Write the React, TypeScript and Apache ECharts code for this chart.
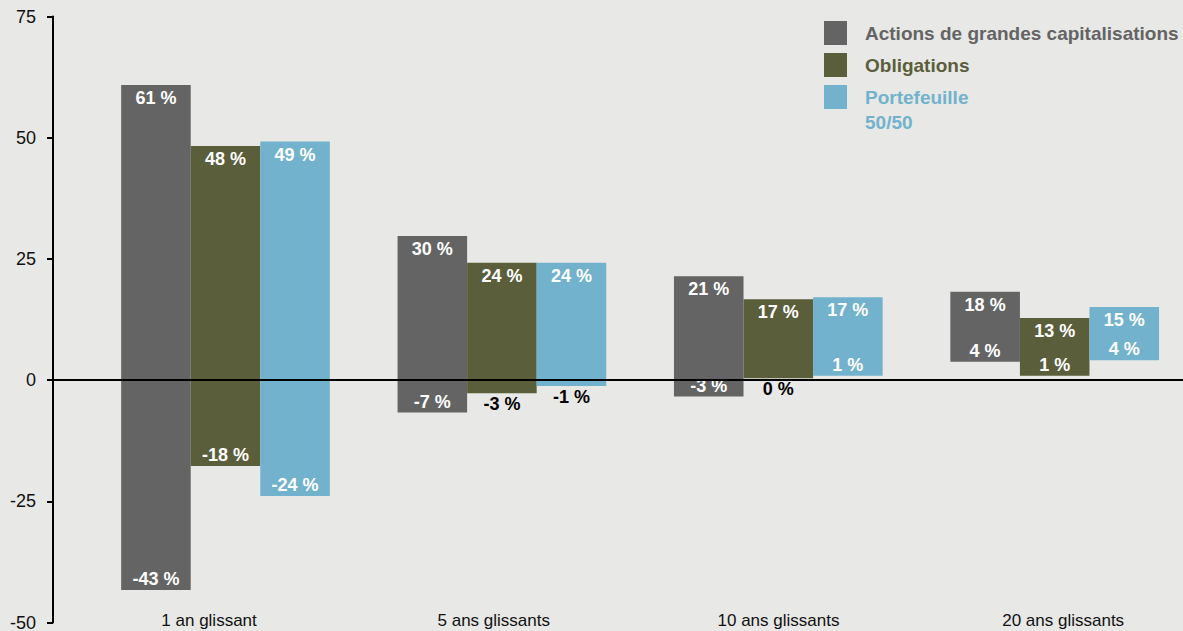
import React, { useEffect, useRef } from "react";
import * as echarts from "echarts";

const CATEGORIES = ["1 an glissant", "5 ans glissants", "10 ans glissants", "20 ans glissants"];
const SERIES_NAMES = ["Actions de grandes capitalisations", "Obligations", "Portefeuille"];
const SERIES_NAME_SUFFIX = "50/50";

const EQUITY_LOW = [-43.3, -6.7, -3.4, 3.8];
const EQUITY_HIGH = [60.85, 29.7, 21.4, 18.2];
const BOND_LOW = [-17.7, -2.7, 0.4, 0.9];
const BOND_HIGH = [48.3, 24.2, 16.7, 12.8];
const MIX_LOW = [-23.9, -1.2, 0.9, 4.1];
const MIX_HIGH = [49.2, 24.2, 17.1, 15.1];

// whether the low-value label sits below the bar (black) instead of inside it
const EQUITY_LOW_BELOW = [false, false, false, false];
const BOND_LOW_BELOW = [false, true, true, false];
const MIX_LOW_BELOW = [false, true, false, false];

const Y_MIN = -50;
const Y_MAX = 75;
const Y_STEP = 25;

const COLORS = ["#646464", "#5b5e3b", "#72b2cc"];
const BG = "#e8e8e6";
const FONT = "'Liberation Sans', Arial, Helvetica, sans-serif";

const GRID_LEFT = 87.3;
const GRID_WIDTH = 1105.6;
const LABEL_GRID_LEFT = 66.7;
const LABEL_GRID_WIDTH = 1138.8;
const AXIS_OFFSET = 34.3;
const BAR_FRACTION = 0.755;

const LOWS = [EQUITY_LOW, BOND_LOW, MIX_LOW];
const HIGHS = [EQUITY_HIGH, BOND_HIGH, MIX_HIGH];
const BELOWS = [EQUITY_LOW_BELOW, BOND_LOW_BELOW, MIX_LOW_BELOW];

const fmt = (v: number) => `${Math.round(v)} %`;

export default function App() {
  const ref = useRef<HTMLDivElement>(null);

  useEffect(() => {
    if (!ref.current) return;
    const chart = echarts.init(ref.current, undefined, { renderer: "svg" });

    const series = SERIES_NAMES.map((name, s) => ({
      name,
      type: "custom",
      xAxisIndex: 0,
      yAxisIndex: 0,
      itemStyle: { color: COLORS[s] },
      data: CATEGORIES.map((_, i) => [i, LOWS[s][i], HIGHS[s][i], BELOWS[s][i] ? 1 : 0]),
      renderItem: (params: any, api: any) => {
        const idx = api.value(0);
        const low = api.value(1);
        const high = api.value(2);
        const below = api.value(3) === 1;
        const center = api.coord([idx, 0]);
        const band = api.size([1, 0])[0];
        const w = (band * BAR_FRACTION) / 3;
        const x = center[0] - 1.5 * w + s * w;
        const yTop = api.coord([idx, high])[1];
        const yBot = api.coord([idx, low])[1];
        const textBase = {
          fontSize: 18,
          fontWeight: "bold",
          fontFamily: FONT,
          align: "center",
          verticalAlign: "middle",
        };
        return {
          type: "group",
          children: [
            {
              type: "rect",
              shape: { x, y: yTop, width: w, height: yBot - yTop },
              style: { fill: COLORS[s] },
            },
            {
              type: "text",
              style: { ...textBase, text: fmt(high), x: x + w / 2, y: yTop + 13, fill: "#ffffff" },
            },
            {
              type: "text",
              style: {
                ...textBase,
                text: fmt(low),
                x: x + w / 2,
                y: below ? yBot + 11 : yBot - 11,
                fill: below ? "#000000" : "#ffffff",
              },
            },
          ],
        };
      },
    }));

    chart.setOption({
      animation: false,
      backgroundColor: BG,
      textStyle: { fontFamily: FONT },
      grid: [
        { left: GRID_LEFT, width: GRID_WIDTH, top: 16.5, bottom: 8.5, outerBoundsMode: "none", containLabel: false },
        { left: LABEL_GRID_LEFT, width: LABEL_GRID_WIDTH, top: 16.5, bottom: 21, outerBoundsMode: "none", containLabel: false },
      ],
      legend: {
        orient: "vertical",
        left: 824,
        top: 21,
        padding: 0,
        itemWidth: 23,
        itemHeight: 24,
        itemGap: 8,
        icon: "rect",
        selectedMode: false,
        textStyle: { fontSize: 19, fontWeight: "bold", fontFamily: FONT, padding: [0, 0, 0, 13] },
        data: SERIES_NAMES.map((n, s) => ({ name: n, textStyle: { color: COLORS[s] } })),
      },
      xAxis: [
        {
          type: "category",
          gridIndex: 0,
          data: CATEGORIES,
          axisLine: { show: false },
          axisTick: { show: false },
          axisLabel: { show: false },
          splitLine: { show: false },
        },
        {
          type: "category",
          gridIndex: 1,
          data: CATEGORIES,
          position: "bottom",
          axisLine: { show: false },
          axisTick: { show: false },
          axisLabel: { show: true, fontSize: 17, color: "#111111", fontFamily: FONT, margin: 2 },
          splitLine: { show: false },
        },
      ],
      yAxis: [
        {
          type: "value",
          gridIndex: 0,
          min: Y_MIN,
          max: Y_MAX,
          interval: Y_STEP,
          offset: AXIS_OFFSET,
          axisLine: { show: true, lineStyle: { color: "#000000", width: 2 } },
          axisTick: { show: true, length: 6, lineStyle: { color: "#000000", width: 2 } },
          axisLabel: { fontSize: 18, color: "#111111", fontFamily: FONT, margin: 17 },
          splitLine: { show: false },
        },
        {
          type: "value",
          gridIndex: 1,
          min: 0,
          max: 1,
          show: false,
        },
      ],
      series,
    });

    const y0 = chart.convertToPixel({ yAxisIndex: 0 }, 0) as number;
    chart.setOption({
      graphic: [
        {
          type: "line",
          z: 100,
          shape: { x1: GRID_LEFT - AXIS_OFFSET, y1: y0, x2: 1183, y2: y0 },
          style: { stroke: "#000000", lineWidth: 2 },
        },
        {
          type: "text",
          z: 100,
          x: 865,
          y: 122,
          style: {
            text: SERIES_NAME_SUFFIX,
            fontSize: 19,
            fontWeight: "bold",
            fontFamily: FONT,
            fill: COLORS[2],
            verticalAlign: "middle",
          },
        },
      ],
    });

    return () => chart.dispose();
  }, []);

  return (
    <div
      ref={ref}
      style={{ position: "fixed", left: 0, top: 0, width: 1183, height: 631, background: BG }}
    />
  );
}
